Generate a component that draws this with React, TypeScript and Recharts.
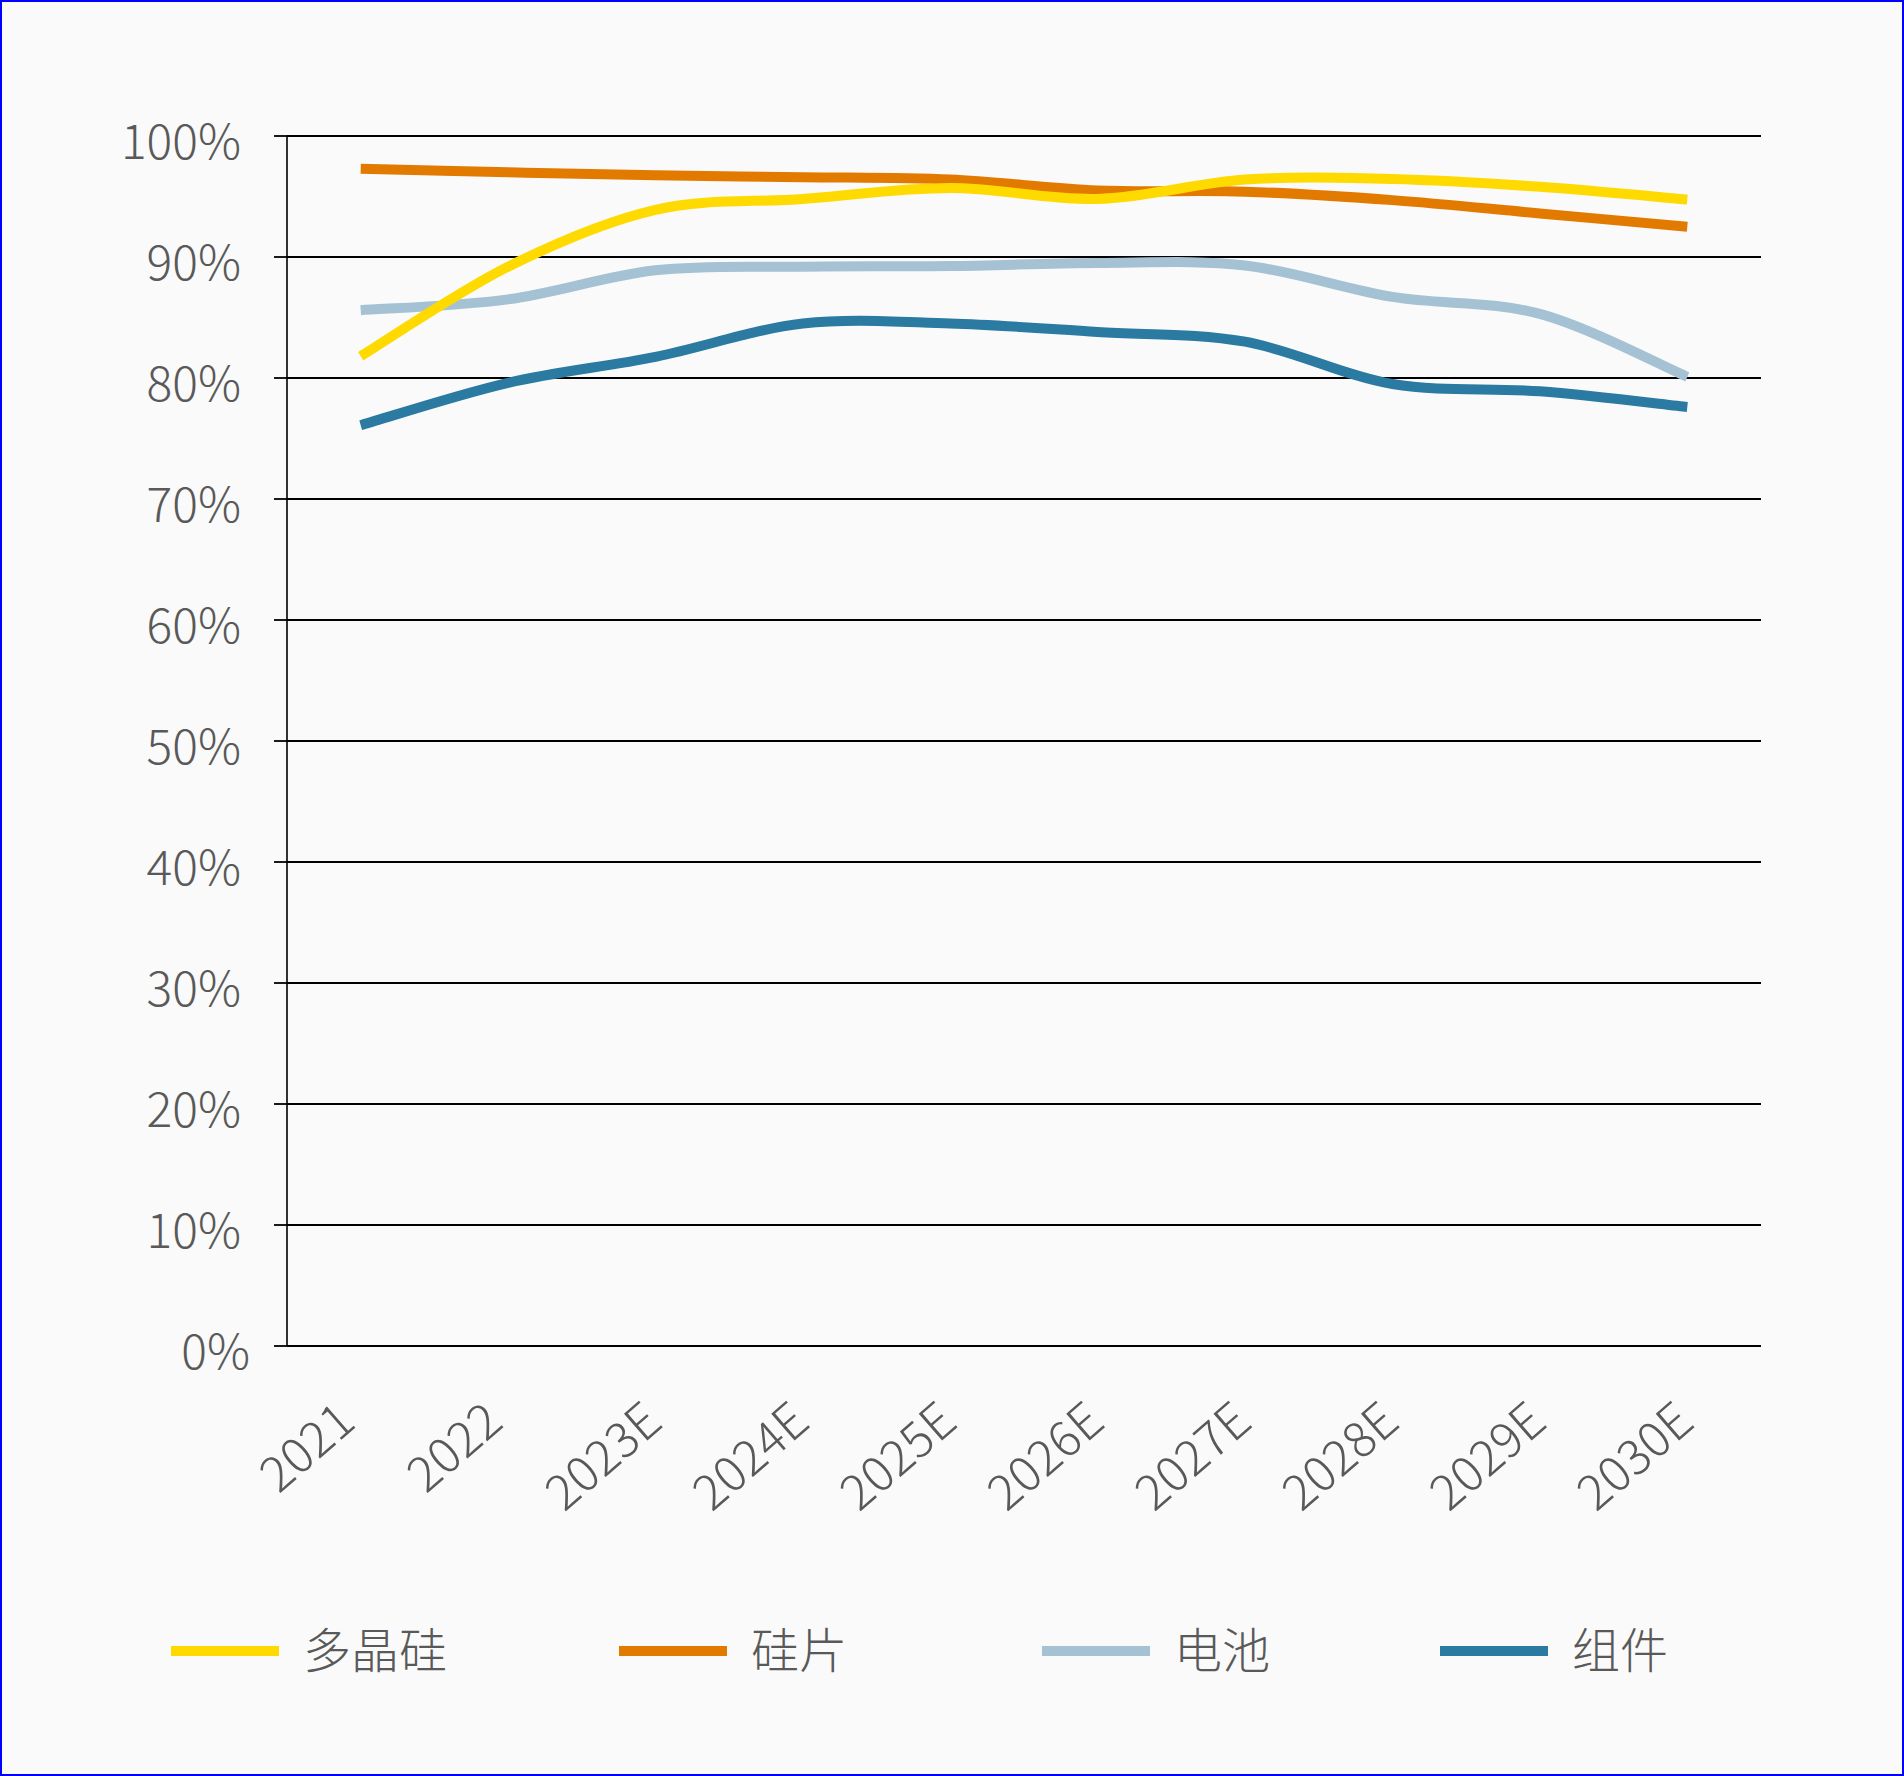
import React from 'react';
import { LineChart, Line, XAxis, YAxis, CartesianGrid, Legend } from 'recharts';

// ---------- data ----------
const categories = ['2021', '2022', '2023E', '2024E', '2025E', '2026E', '2027E', '2028E', '2029E', '2030E'];
const polysilicon = [81.8, 89.2, 93.9, 94.8, 95.7, 94.8, 96.4, 96.45, 95.8, 94.75];
const wafer = [97.3, 97.0, 96.75, 96.6, 96.4, 95.5, 95.4, 94.7, 93.6, 92.5];
const cell = [85.6, 86.5, 88.9, 89.2, 89.25, 89.5, 89.3, 86.7, 85.3, 80.1];
const moduleRate = [76.1, 79.6, 81.75, 84.5, 84.5, 83.8, 83.0, 79.5, 78.9, 77.6];
const yTicks = [0, 10, 20, 30, 40, 50, 60, 70, 80, 90, 100];

const seriesKeys = ['poly', 'wafer', 'cell', 'module'];
const seriesNames = ['多晶硅', '硅片', '电池', '组件'];
const seriesColors = ['#FFDA00', '#E27A00', '#A5C2D4', '#2A7AA1'];

const data = categories.map((c, i) => ({
  year: c,
  poly: polysilicon[i],
  wafer: wafer[i],
  cell: cell[i],
  module: moduleRate[i],
}));

// ---------- layout ----------
const W = 1904;
const H = 1776;
const FONT = '"Noto Sans CJK SC", "Noto Sans", sans-serif';
const TEXT = '#595959';
const legendLefts = [171, 619, 1042, 1440];

// Excel-like smoothing (uniform Catmull-Rom as cubic Bezier)
const excelSmooth = (context: any) => {
  let pts: number[][] = [];
  return {
    areaStart() {},
    areaEnd() {},
    lineStart() {
      pts = [];
    },
    point(x: number, y: number) {
      pts.push([+x, +y]);
    },
    lineEnd() {
      const n = pts.length;
      if (!n) return;
      context.moveTo(pts[0][0], pts[0][1]);
      for (let i = 0; i < n - 1; i++) {
        const p0 = pts[i - 1] || pts[i];
        const p1 = pts[i];
        const p2 = pts[i + 1];
        const p3 = pts[i + 2] || pts[i + 1];
        context.bezierCurveTo(
          p1[0] + (p2[0] - p0[0]) / 6,
          p1[1] + (p2[1] - p0[1]) / 6,
          p2[0] - (p3[0] - p1[0]) / 6,
          p2[1] - (p3[1] - p1[1]) / 6,
          p2[0],
          p2[1]
        );
      }
    },
  };
};

const XTick = (props: any) => {
  const { x, y, payload } = props;
  const label = String(payload.value);
  const px = x - (label.endsWith('E') ? 14 : 26);
  return (
    <text
      x={px}
      y={y}
      transform={`rotate(-41 ${px} ${y})`}
      textAnchor="end"
      dy="0.72em"
      fill={TEXT}
      fontSize={49}
      fontWeight={300}
      fontFamily={FONT}
    >
      {label}
    </text>
  );
};

const YTick = (props: any) => {
  const { x, y, payload } = props;
  const px = payload.value === 0 ? x + 9 : x;
  return (
    <text
      x={px}
      y={y + 6}
      textAnchor="end"
      dy="0.36em"
      fill={TEXT}
      fontSize={48}
      fontWeight={300}
      fontFamily={FONT}
    >
      {payload.value}%
    </text>
  );
};

const LegendContent = () => (
  <div style={{ position: 'relative', width: W, height: 60 }}>
    {seriesNames.map((name, i) => (
      <div key={name} style={{ position: 'absolute', left: legendLefts[i], top: 0, height: 60 }}>
        <div
          style={{
            position: 'absolute',
            left: 0,
            top: 25,
            width: 108,
            height: 10,
            background: seriesColors[i],
          }}
        />
        <div
          style={{
            position: 'absolute',
            left: 132,
            top: -2,
            height: 60,
            lineHeight: '56px',
            whiteSpace: 'nowrap',
            fontSize: 48,
            fontWeight: 300,
            fontFamily: FONT,
            color: TEXT,
          }}
        >
          {name}
        </div>
      </div>
    ))}
  </div>
);

const drawOrder = [3, 2, 1, 0];

export default function App() {
  return (
    <div
      style={{
        position: 'absolute',
        left: 0,
        top: 0,
        width: W,
        height: H,
        background: '#FAFAFA',
        overflow: 'hidden',
      }}
    >
      <div style={{ position: 'absolute', left: 0, top: 0 }}>
        <LineChart
          width={W}
          height={H}
          data={data}
          margin={{ top: 136, right: 143, bottom: 300, left: 0 }}
        >
          <CartesianGrid vertical={false} stroke="#000" strokeWidth={1.8} />
          <XAxis
            dataKey="year"
            height={130}
            padding={{ left: 73.7, right: 73.7 }}
            axisLine={{ stroke: '#000', strokeWidth: 2 }}
            tickLine={false}
            tickSize={0}
            tickMargin={53}
            interval={0}
            tick={<XTick />}
          />
          <YAxis
            width={287}
            domain={[0, 100]}
            ticks={yTicks}
            interval={0}
            axisLine={{ stroke: '#000', strokeWidth: 1.6 }}
            tickLine={{ stroke: '#000', strokeWidth: 1.8 }}
            tickSize={13}
            tickMargin={33}
            tick={<YTick />}
          />
          <Legend
            layout="horizontal"
            verticalAlign="middle"
            align="center"
            wrapperStyle={{ left: 0, top: 1621, width: W, height: 60 }}
            content={<LegendContent />}
          />
          {drawOrder.map((i) => (
            <Line
              key={seriesKeys[i]}
              dataKey={seriesKeys[i]}
              name={seriesNames[i]}
              type={excelSmooth as any}
              stroke={seriesColors[i]}
              strokeWidth={10}
              dot={false}
              activeDot={false}
              isAnimationActive={false}
            />
          ))}
        </LineChart>
      </div>
      <div
        style={{
          position: 'absolute',
          left: 0,
          top: 0,
          width: W,
          height: H,
          boxSizing: 'border-box',
          border: '2px solid #0000FF',
          pointerEvents: 'none',
        }}
      />
    </div>
  );
}
